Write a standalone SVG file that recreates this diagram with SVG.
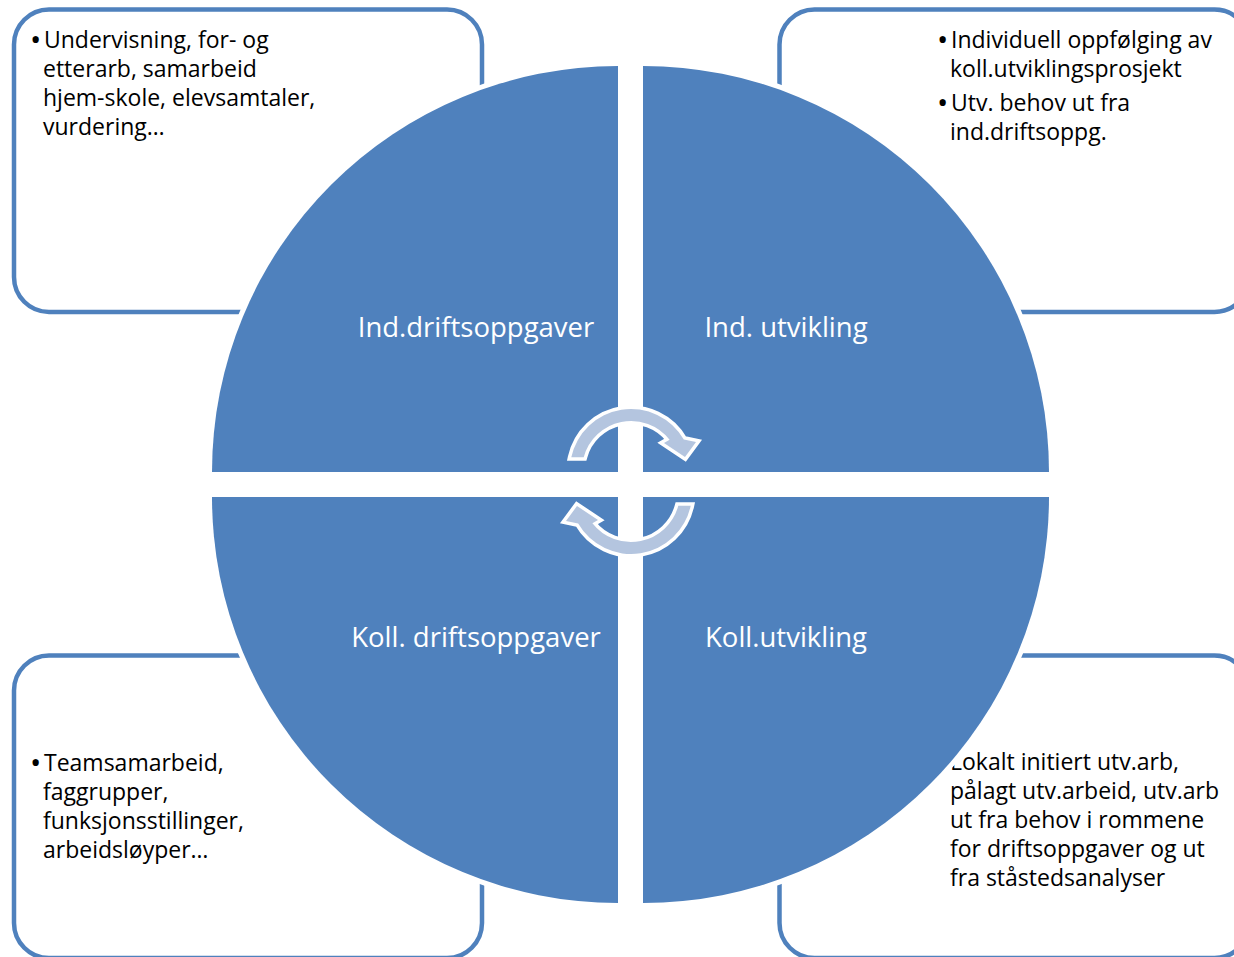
<svg xmlns="http://www.w3.org/2000/svg" width="1234" height="957" viewBox="0 0 1234 957">
  <style>
    .box { fill: #ffffff; stroke: #4F81BD; stroke-width: 4.5; }
    .quad { fill: #4F81BD; stroke: #ffffff; stroke-width: 10; paint-order: stroke fill; }
    .txt { font-family: "Open Sans", "Noto Sans", sans-serif; font-size: 23px; fill: #000000; }
    .bul { font-family: "Open Sans", "Noto Sans", sans-serif; font-size: 30px; fill: #000000; }
    .lbl { font-family: "Open Sans", "Noto Sans", sans-serif; font-size: 27.5px; fill: #ffffff; text-anchor: middle; }
    .arrow { fill: #B4C5DF; stroke: #ffffff; stroke-width: 7; paint-order: stroke fill; stroke-linejoin: miter; }
  </style>
  <rect width="1234" height="957" fill="#ffffff"/>

  <g id="box-top-left">
    <rect class="box" x="14" y="9.5" width="468" height="302.5" rx="35" ry="35"/>
    <text class="bul" x="30" y="50">•</text>
    <text class="txt" x="44" y="48">Undervisning, for- og</text>
    <text class="txt" x="43" y="77">etterarb, samarbeid</text>
    <text class="txt" x="43" y="106">hjem-skole, elevsamtaler,</text>
    <text class="txt" x="43" y="135">vurdering…</text>
  </g>

  <g id="box-top-right">
    <rect class="box" x="779.5" y="9.5" width="470" height="302.5" rx="35" ry="35"/>
    <text class="bul" x="937" y="50">•</text>
    <text class="txt" x="951" y="48">Individuell oppfølging av</text>
    <text class="txt" x="950" y="77">koll.utviklingsprosjekt</text>
    <text class="bul" x="937" y="113">•</text>
    <text class="txt" x="951" y="111">Utv. behov ut fra</text>
    <text class="txt" x="950" y="140">ind.driftsoppg.</text>
  </g>

  <g id="box-bottom-left">
    <rect class="box" x="14" y="655.5" width="468" height="302.5" rx="35" ry="35"/>
    <text class="bul" x="30" y="773">•</text>
    <text class="txt" x="44" y="771">Teamsamarbeid,</text>
    <text class="txt" x="43" y="800">faggrupper,</text>
    <text class="txt" x="43" y="829">funksjonsstillinger,</text>
    <text class="txt" x="43" y="858">arbeidsløyper…</text>
  </g>

  <g id="box-bottom-right">
    <rect class="box" x="779.5" y="655.5" width="470" height="302.5" rx="35" ry="35"/>
    <text class="txt" x="950" y="770">Lokalt initiert utv.arb,</text>
    <text class="txt" x="950" y="799">pålagt utv.arbeid, utv.arb</text>
    <text class="txt" x="950" y="828">ut fra behov i rommene</text>
    <text class="txt" x="950" y="857">for driftsoppgaver og ut</text>
    <text class="txt" x="950" y="886">fra ståstedsanalyser</text>
  </g>

  <g id="quadrant-ind-drift">
    <path class="quad" d="M618,472 L212,472 A406,406 0 0 1 618,66 Z"/>
    <text class="lbl" x="476" y="337">Ind.driftsoppgaver</text>
  </g>
  <g id="quadrant-ind-utv">
    <path class="quad" d="M643,472 L643,66 A406,406 0 0 1 1049,472 Z"/>
    <text class="lbl" x="786" y="337">Ind. utvikling</text>
  </g>
  <g id="quadrant-koll-drift">
    <path class="quad" d="M618,497 L618,903 A406,406 0 0 1 212,497 Z"/>
    <text class="lbl" x="476" y="647">Koll. driftsoppgaver</text>
  </g>
  <g id="quadrant-koll-utv">
    <path class="quad" d="M643,497 L1049,497 A406,406 0 0 1 643,903 Z"/>
    <text class="lbl" x="786" y="647">Koll.utvikling</text>
  </g>

  <g id="connectors">
    <path id="arrow-top" class="arrow" d="M571.3,457.3 A61,61 0 0 1 683.8,439.5 L696,442 L685,457 L664,443 L669.6,439.8 A49,49 0 0 0 583.7,457.3 Z"/>
    <path id="arrow-bottom" class="arrow" transform="rotate(180 631 481.5)" d="M571.3,457.3 A61,61 0 0 1 683.8,439.5 L696,442 L685,457 L664,443 L669.6,439.8 A49,49 0 0 0 583.7,457.3 Z"/>
  </g>
</svg>
